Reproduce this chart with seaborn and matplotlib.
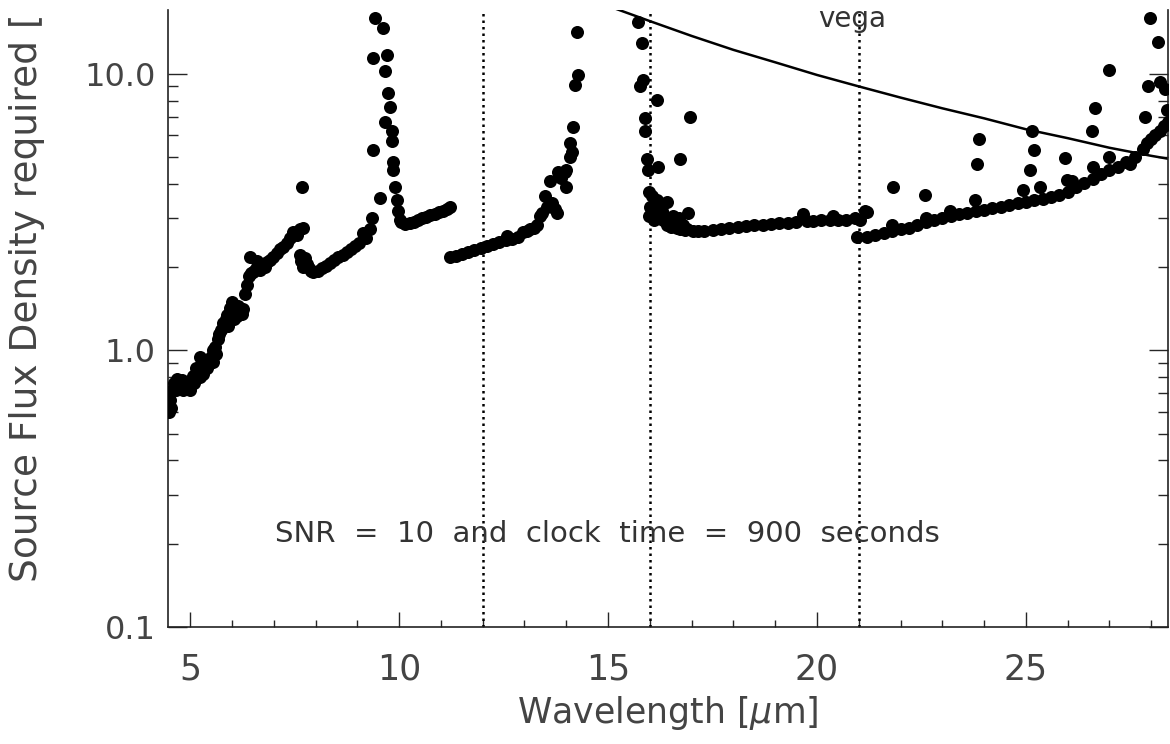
import matplotlib as mpl
mpl.use('Agg')
import matplotlib.pyplot as plt
import seaborn as sns
import pandas as pd

# --- data (wavelength in micron, flux density) ---

# 4.5 - 7.8 micron band
wl_seg1 = [4.50, 4.52, 4.56, 4.62, 4.69, 4.75, 4.83, 4.90, 4.98, 5.07, 5.15, 5.24, 5.24, 5.31,
           5.40, 5.47, 5.55, 5.55, 5.60, 5.67, 5.73, 5.79, 5.85, 5.88, 5.95, 6.00, 6.06, 6.12,
           6.20, 6.27, 6.32, 6.36, 6.40, 6.44, 6.50, 6.55, 6.60, 6.67, 6.75, 6.84, 6.91, 6.99,
           7.07, 7.15, 7.22, 7.32, 7.40, 7.46, 7.55, 7.63, 7.70, 7.68,
           4.55, 4.65, 4.80, 5.00, 5.10, 5.20, 5.35, 5.50, 5.62, 5.70, 5.90, 6.05, 6.15, 6.25,
           6.45, 6.60, 6.80]
flux_seg1 = [0.60, 0.66, 0.72, 0.76, 0.79, 0.74, 0.72, 0.74, 0.77, 0.81, 0.86, 0.95, 0.80, 0.82,
             0.86, 0.90, 1.00, 0.91, 1.03, 1.10, 1.18, 1.26, 1.30, 1.34, 1.42, 1.49, 1.38, 1.33,
             1.37, 1.41, 1.60, 1.73, 1.85, 2.18, 1.92, 1.95, 2.00, 1.96, 2.00, 2.08, 2.12, 2.18,
             2.25, 2.32, 2.37, 2.45, 2.55, 2.68, 2.62, 2.74, 2.78, 3.90,
             0.62, 0.72, 0.78, 0.72, 0.76, 0.84, 0.88, 0.95, 0.97, 1.15, 1.22, 1.30, 1.45, 1.35,
             1.90, 2.10, 2.00]

# 7.6 - 9.3 micron band
wl_seg2 = [7.62, 7.66, 7.70, 7.75, 7.80, 7.85, 7.90, 7.95, 8.05, 8.15, 8.25, 8.35, 8.45, 8.55,
           8.65, 8.75, 8.85, 8.95, 9.05, 9.14, 9.22, 9.31]
flux_seg2 = [2.22, 2.10, 2.00, 2.15, 2.05, 1.98, 1.94, 1.92, 1.94, 1.98, 2.02, 2.07, 2.12, 2.17,
             2.22, 2.27, 2.33, 2.38, 2.44, 2.66, 2.55, 2.74]

# spike near 9.6 micron
wl_spike1 = [9.35, 9.38, 9.38, 9.43, 9.55, 9.62, 9.66, 9.66, 9.71, 9.74, 9.78, 9.83, 9.83, 9.86,
             9.86, 9.90, 9.95, 9.98, 10.02]
flux_spike1 = [3.00, 5.30, 11.4, 15.9, 3.55, 14.6, 10.2, 6.70, 11.7, 8.50, 7.60, 6.20, 5.70, 4.80,
               4.50, 3.90, 3.50, 3.20, 2.95]

# 10 - 11.2 micron band
wl_seg3 = [10.05, 10.15, 10.25, 10.35, 10.45, 10.55, 10.65, 10.75, 10.85, 10.95, 11.05, 11.15, 11.22]
flux_seg3 = [2.90, 2.86, 2.88, 2.92, 2.96, 3.00, 3.04, 3.08, 3.12, 3.16, 3.20, 3.25, 3.30]

# 11.2 - 14.3 micron band
wl_seg4 = [11.22, 11.35, 11.50, 11.65, 11.80, 11.95, 12.10, 12.25, 12.40, 12.55, 12.58, 12.70,
           12.85, 12.97, 13.05, 13.13, 13.22, 13.30, 13.37, 13.42, 13.49, 13.55, 13.61, 13.66,
           13.72, 13.78, 13.80, 13.88, 13.97, 14.00, 14.00, 14.09, 14.09, 14.14, 14.17, 14.20,
           14.26, 14.28]
flux_seg4 = [2.17, 2.20, 2.23, 2.26, 2.30, 2.34, 2.38, 2.42, 2.46, 2.50, 2.60, 2.53,
             2.58, 2.67, 2.70, 2.74, 2.78, 2.85, 3.05, 3.15, 3.60, 3.30, 4.10, 3.40,
             3.25, 3.15, 4.40, 4.20, 4.40, 3.90, 4.50, 5.00, 5.60, 5.20, 6.40, 9.10,
             14.2, 9.90]

# 15.7 - 21.2 micron band
wl_seg5 = [15.72, 15.77, 15.81, 15.84, 15.89, 15.89, 15.93, 15.96, 15.99, 15.99, 16.05, 16.10,
           16.17, 16.17, 16.20, 16.25, 16.32, 16.41, 16.45, 16.56, 16.60, 16.72, 16.72, 16.80,
           16.91, 16.96, 17.03, 17.15, 17.30, 17.50, 17.70, 17.90, 18.10, 18.30, 18.50, 18.70,
           18.90, 19.10, 19.30, 19.50, 19.67, 19.75, 19.90, 20.10, 20.30, 20.38, 20.50, 20.70,
           20.90, 21.03, 21.15, 21.20,
           16.00, 16.10, 16.30, 16.40, 16.50, 16.65, 16.85, 16.30, 16.70, 16.90]
flux_seg5 = [15.4, 9.00, 12.9, 9.50, 6.90, 6.20, 4.90, 4.50, 3.75, 3.05, 3.60, 3.20,
             8.05, 3.50, 4.60, 3.10, 2.97, 3.43, 3.00, 3.05, 2.90, 4.90, 2.74, 2.85,
             3.15, 7.00, 2.70, 2.70, 2.70, 2.72, 2.74, 2.76, 2.79, 2.81, 2.83, 2.85,
             2.86, 2.88, 2.89, 2.90, 3.10, 2.93, 2.94, 2.95, 2.96, 3.05, 2.96, 2.95,
             3.00, 2.97, 3.20, 3.17,
             3.30, 2.95, 3.20, 2.85, 2.80, 2.78, 2.72, 3.35, 3.00, 2.75]

# 21 - 28.4 micron band
wl_seg6 = [20.96, 21.20, 21.40, 21.60, 21.80, 22.00, 22.20, 22.40, 22.60, 22.80, 23.00, 23.20,
           23.40, 23.60, 23.80, 24.00, 24.20, 24.40, 24.60, 24.80, 25.00, 25.20, 25.40, 25.60,
           25.80, 26.00, 26.20, 26.40, 26.60, 26.80, 27.00, 27.20, 27.40, 27.60, 27.80, 27.90,
           28.00, 28.10, 28.20, 28.30, 28.40]
flux_seg6 = [2.56, 2.58, 2.61, 2.65, 2.70, 2.74, 2.78, 2.84, 2.90, 2.96, 3.00, 3.05,
             3.10, 3.15, 3.20, 3.23, 3.27, 3.31, 3.35, 3.40, 3.45, 3.50, 3.54, 3.58,
             3.65, 3.75, 3.88, 4.02, 4.18, 4.35, 4.50, 4.62, 4.78, 5.00, 5.35, 5.60,
             5.80, 6.00, 6.20, 6.45, 6.70]

# scattered points above the 21 - 28.4 micron band
wl_scatter6 = [21.80, 21.83, 22.58, 22.60, 23.18, 23.78, 23.83, 23.88, 24.93, 25.10, 25.14, 25.20,
               25.33, 25.93, 25.98, 26.10, 26.58, 26.60, 26.65, 27.00, 27.00, 27.50, 27.85, 27.92,
               27.97, 28.16, 28.20, 28.33, 28.37]
flux_scatter6 = [2.85, 3.90, 3.66, 3.00, 3.20, 3.50, 4.70, 5.80, 3.80, 4.50, 6.20, 5.30,
                 3.90, 4.95, 4.14, 4.10, 6.20, 4.60, 7.50, 5.00, 10.3, 4.70, 7.00, 9.00,
                 15.9, 13.0, 9.30, 8.80, 7.40]

# vega spectrum
vega_wl = [14.9, 16.0, 17.0, 18.0, 19.0, 20.0, 21.0, 22.0, 23.0, 24.0, 25.0, 26.0, 27.0, 28.0, 28.5]
vega_flux = [17.8, 15.5, 13.7, 12.2, 11.0, 9.9, 9.0, 8.2, 7.5, 6.9, 6.3, 5.85, 5.4, 5.05, 4.9]

# dotted separators between modules
module_edges = [12, 16, 21]

x_ticks = [5, 10, 15, 20, 25]
y_ticks = [0.1, 1.0, 10.0]
y_tick_labels = ["0.1", "1.0", "10.0"]

sns.set_theme(style="ticks")
plt.rcParams['font.family'] = ['DejaVu Sans']

df = pd.DataFrame({
    "wavelength": (wl_seg1 + wl_seg2 + wl_spike1 + wl_seg3 + wl_seg4 + wl_seg5 + wl_seg6
                   + wl_scatter6),
    "flux": (flux_seg1 + flux_seg2 + flux_spike1 + flux_seg3 + flux_seg4 + flux_seg5 + flux_seg6
             + flux_scatter6),
})
vega = pd.DataFrame({"wavelength": vega_wl, "flux": vega_flux})

W, H = 1170, 744
fig = plt.figure(figsize=(W / 100, H / 100), dpi=100)
ax = fig.add_axes([168 / W, 1 - 627 / H, 1000 / W, 617 / H])

sns.scatterplot(data=df, x="wavelength", y="flux", color="black", s=88,
                linewidth=0, ax=ax, zorder=3)
sns.lineplot(data=vega, x="wavelength", y="flux", color="black", lw=1.8,
             ax=ax, zorder=2)

for edge in module_edges:
    ax.axvline(edge, color="black", lw=1.8, linestyle=(0, (1, 1.6)), zorder=1)

ax.set_yscale("log")
ax.set_xlim(4.47, 28.4)
ax.set_ylim(0.1, 17.0)

ax.set_xticks(x_ticks)
ax.set_xticks(range(5, 29), minor=True)
ax.set_yticks(y_ticks)
ax.set_yticklabels(y_tick_labels)

txt_color = "#444444"
ax.tick_params(axis="x", which="major", direction="in", length=11, width=1,
               pad=18, labelsize=25, labelcolor=txt_color, top=False)
ax.tick_params(axis="x", which="minor", direction="in", length=5, width=1, top=False)
ax.tick_params(axis="y", which="major", direction="in", length=14, width=1,
               pad=9, labelsize=23, labelcolor=txt_color, right=True)
ax.tick_params(axis="y", which="minor", direction="in", length=7, width=1, right=True)

ax.spines["top"].set_visible(False)
for side in ["left", "bottom", "right"]:
    ax.spines[side].set_color("#222222")
    ax.spines[side].set_linewidth(1.2)

ax.set_xlabel(r"Wavelength [$\mu$m]", fontsize=25, color=txt_color, labelpad=6)
ax.set_ylabel("")
fig.text(27 / W, 1 - 582 / H, "Source Flux Density required [", rotation=90,
         ha="center", va="bottom", fontsize=27, color=txt_color)

ax.text(14.98, 0.217, "SNR  =  10  and  clock  time  =  900  seconds", ha="center",
        va="center", fontsize=21, color="#333333")
ax.text(20.84, 14.8, "vega", ha="center", va="baseline", fontsize=20, color="#333333")

fig.savefig("out.png", dpi=100)
